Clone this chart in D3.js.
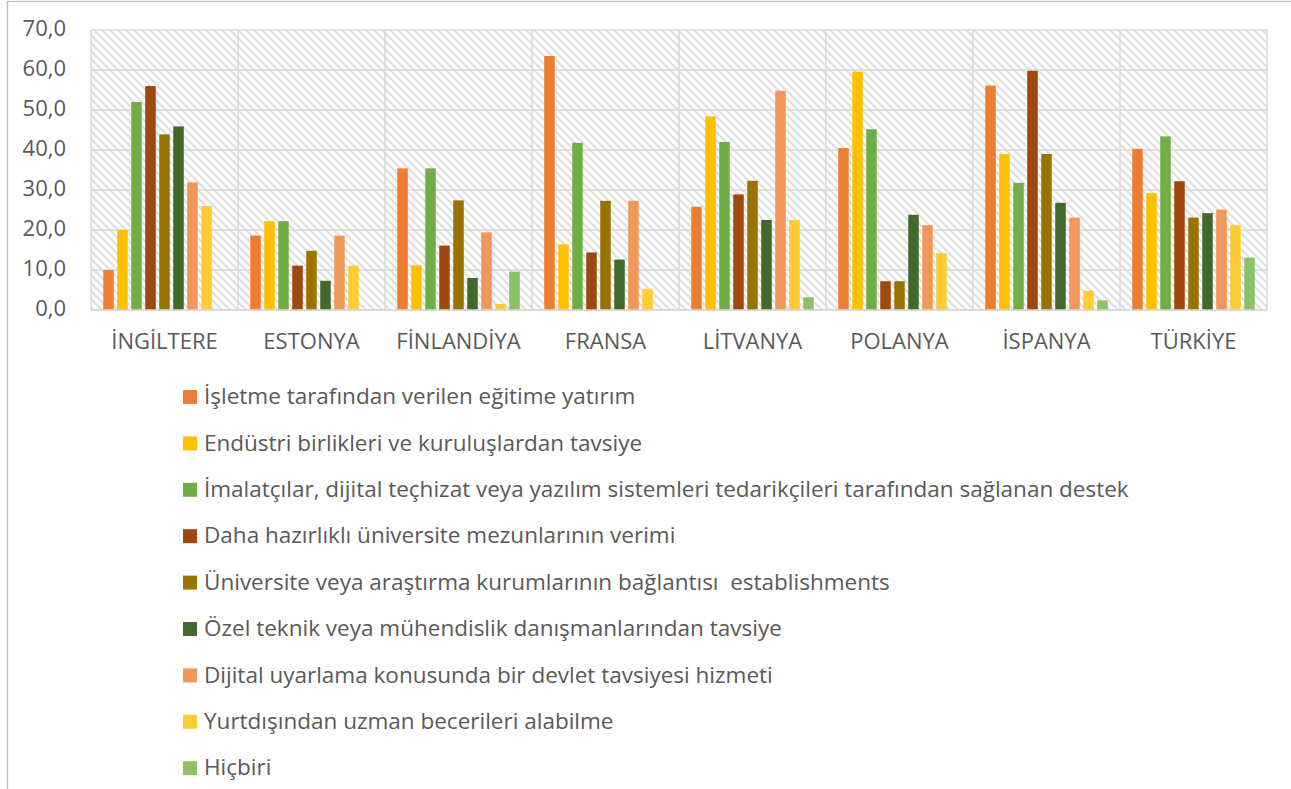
<!DOCTYPE html>
<html>
<head>
<meta charset="utf-8">
<script src="https://cdn.jsdelivr.net/npm/d3@7"></script>
<style>
  html, body { margin: 0; padding: 0; background: #fff; }
  svg { display: block; }
  text { font-family: "Open Sans", "Noto Sans", sans-serif; fill: #595959; }
</style>
</head>
<body>
<svg id="chart" width="1291" height="789"></svg>
<script>
// Countries on the category axis
const countries = ["İNGİLTERE", "ESTONYA", "FİNLANDİYA", "FRANSA", "LİTVANYA", "POLANYA", "İSPANYA", "TÜRKİYE"];

// Series names (legend order)
const seriesNames = [
  "İşletme tarafından verilen eğitime yatırım",
  "Endüstri birlikleri ve kuruluşlardan tavsiye",
  "İmalatçılar, dijital teçhizat veya yazılım sistemleri tedarikçileri tarafından sağlanan destek",
  "Daha hazırlıklı üniversite mezunlarının verimi",
  "Üniversite veya araştırma kurumlarının bağlantısı  establishments",
  "Özel teknik veya mühendislik danışmanlarından tavsiye",
  "Dijital uyarlama konusunda bir devlet tavsiyesi hizmeti",
  "Yurtdışından uzman becerileri alabilme",
  "Hiçbiri"
];

// Values per series, one entry per country
const egitimeYatirim   = [10.0, 18.6, 35.4, 63.5, 25.8, 40.5, 56.1, 40.3];
const endustriTavsiye  = [20.0, 22.2, 11.2, 16.4, 48.4, 59.6, 39.0, 29.2];
const imalatciDestek   = [52.0, 22.2, 35.4, 41.8, 42.0, 45.2, 31.8, 43.4];
const mezunVerimi      = [56.0, 11.1, 16.1, 14.4, 28.9, 7.2, 59.8, 32.2];
const universiteBag    = [43.9, 14.8, 27.4, 27.3, 32.3, 7.2, 39.0, 23.1];
const muhendisTavsiye  = [45.9, 7.3, 8.0, 12.6, 22.5, 23.8, 26.8, 24.2];
const devletHizmeti    = [31.9, 18.6, 19.4, 27.3, 54.8, 21.2, 23.1, 25.1];
const uzmanBeceri      = [26.0, 11.1, 1.5, 5.3, 22.5, 14.2, 4.8, 21.2];
const hicbiri          = [0.0, 0.0, 9.6, 0.0, 3.2, 0.0, 2.4, 13.1];

const seriesValues = [egitimeYatirim, endustriTavsiye, imalatciDestek, mezunVerimi,
  universiteBag, muhendisTavsiye, devletHizmeti, uzmanBeceri, hicbiri];

const colors = ["#ED7D31", "#FFC000", "#70AD47", "#9E480E", "#997300", "#43682B", "#F1975A", "#FFCD33", "#8CC168"];

const yTicks = [0, 10, 20, 30, 40, 50, 60, 70];

const AXIS_FONT = 22;
const LEGEND_FONT = 22.5;

const svg = d3.select("#chart");

// Outer chart frame
svg.append("rect")
  .attr("x", 7.5).attr("y", 1.5)
  .attr("width", 1300).attr("height", 800)
  .attr("fill", "#fff").attr("stroke", "#BFBFBF").attr("stroke-width", 1.3);

const plot = { left: 91, right: 1267, top: 30, bottom: 310 };

// Diagonal hatch fill for the plot area
const defs = svg.append("defs");
const pat = defs.append("pattern")
  .attr("id", "hatch")
  .attr("patternUnits", "userSpaceOnUse")
  .attr("width", 8).attr("height", 8);
pat.append("rect").attr("width", 8).attr("height", 8).attr("fill", "#fff");
pat.append("path")
  .attr("d", "M-2,-2 L10,10 M-2,6 L2,10 M6,-2 L10,2")
  .attr("stroke", "#E0E0E0").attr("stroke-width", 2.2);

const x0 = d3.scaleBand()
  .domain(countries)
  .range([plot.left, plot.right])
  .padding(0);

const x1 = d3.scaleBand()
  .domain(d3.range(seriesNames.length))
  .range([0, x0.bandwidth()])
  .paddingInner(0.25)
  .paddingOuter(0.875);

const y = d3.scaleLinear()
  .domain([0, 70])
  .range([plot.bottom, plot.top]);

svg.append("rect")
  .attr("x", plot.left).attr("y", plot.top)
  .attr("width", plot.right - plot.left).attr("height", plot.bottom - plot.top)
  .attr("fill", "url(#hatch)");

// Horizontal gridlines
svg.append("g")
  .selectAll("line")
  .data(yTicks)
  .join("line")
  .attr("x1", plot.left).attr("x2", plot.right)
  .attr("y1", d => y(d)).attr("y2", d => y(d))
  .attr("stroke", "#D9D9D9").attr("stroke-width", 1.5);

// Vertical gridlines at category boundaries
const bounds = countries.map(c => x0(c)).concat([plot.right]);
svg.append("g")
  .selectAll("line")
  .data(bounds)
  .join("line")
  .attr("x1", d => d).attr("x2", d => d)
  .attr("y1", plot.top).attr("y2", plot.bottom)
  .attr("stroke", "#D9D9D9").attr("stroke-width", 1.5);

// Bars
const groups = svg.append("g")
  .selectAll("g")
  .data(countries)
  .join("g")
  .attr("transform", c => `translate(${x0(c)},0)`);

groups.selectAll("rect")
  .data((c, ci) => seriesValues.map((vals, si) => ({ si, v: vals[ci] })))
  .join("rect")
  .attr("x", d => x1(d.si))
  .attr("width", x1.bandwidth())
  .attr("y", d => y(d.v))
  .attr("height", d => y(0) - y(d.v))
  .attr("fill", d => colors[d.si]);

// Bottom axis line
svg.append("line")
  .attr("x1", plot.left).attr("x2", plot.right)
  .attr("y1", plot.bottom).attr("y2", plot.bottom)
  .attr("stroke", "#D9D9D9").attr("stroke-width", 1.5);

// Y axis labels
const yAxis = d3.axisLeft(y)
  .tickValues(yTicks)
  .tickSize(0)
  .tickPadding(0)
  .tickFormat(d => d3.format(".1f")(d).replace(".", ","));
const yg = svg.append("g")
  .attr("transform", `translate(66,0)`)
  .call(yAxis);
yg.select(".domain").remove();
yg.selectAll("text")
  .attr("font-size", AXIS_FONT)
  .attr("fill", "#595959")
  .attr("y", -2)
  .attr("dy", "0.35em")
  .style("font-family", "'Open Sans', 'Noto Sans', sans-serif");

// Category axis labels
const xAxis = d3.axisBottom(x0).tickSize(0).tickPadding(0);
const xg = svg.append("g")
  .attr("transform", `translate(0,341)`)
  .call(xAxis);
xg.select(".domain").remove();
xg.selectAll("text")
  .attr("font-size", AXIS_FONT)
  .attr("fill", "#595959")
  .attr("y", 0)
  .attr("dy", "0.35em")
  .style("font-family", "'Open Sans', 'Noto Sans', sans-serif");

// Legend
const legend = svg.append("g")
  .selectAll("g")
  .data(seriesNames)
  .join("g")
  .attr("transform", (d, i) => `translate(183,${397 + i * 46.4})`);
legend.append("rect")
  .attr("x", 0).attr("y", -7)
  .attr("width", 14).attr("height", 14)
  .attr("fill", (d, i) => colors[i]);
legend.append("text")
  .attr("x", 21).attr("y", -1)
  .attr("dy", "0.36em")
  .attr("font-size", LEGEND_FONT)
  .style("white-space", "pre")
  .attr("xml:space", "preserve")
  .text(d => d);
</script>
</body>
</html>
